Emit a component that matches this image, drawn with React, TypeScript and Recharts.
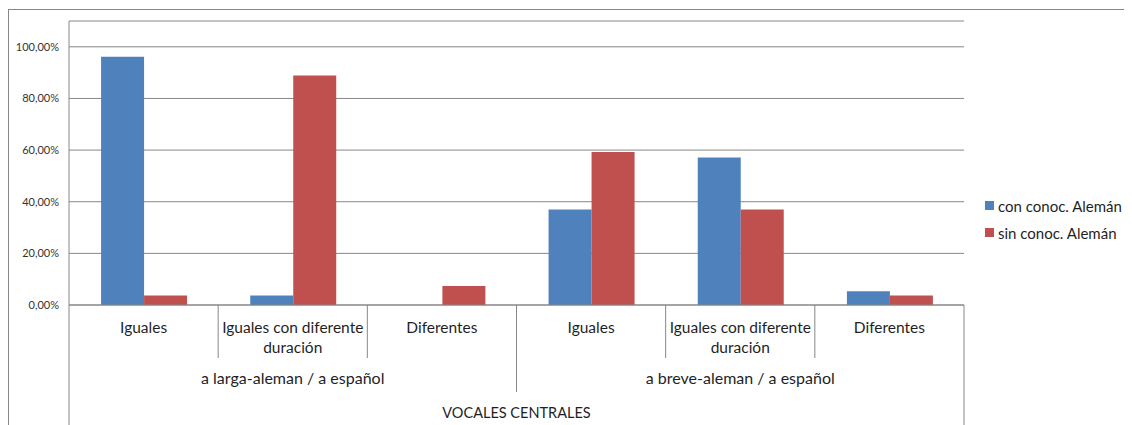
import React from "react";
import { BarChart, Bar, XAxis, YAxis, CartesianGrid, Legend } from "recharts";

const subCategories = [
  "Iguales",
  "Iguales con diferente duración",
  "Diferentes",
  "Iguales",
  "Iguales con diferente duración",
  "Diferentes",
];
const groups = [
  "a larga-aleman / a español",
  "a larga-aleman / a español",
  "a larga-aleman / a español",
  "a breve-aleman / a español",
  "a breve-aleman / a español",
  "a breve-aleman / a español",
];
const topLabel = "VOCALES CENTRALES";
const conConoc = [0.962, 0.037, 0, 0.37, 0.571, 0.053];
const sinConoc = [0.037, 0.889, 0.074, 0.593, 0.37, 0.037];
const yTicks = [0, 0.2, 0.4, 0.6, 0.8, 1];
const seriesNames = ["con conoc. Alemán", "sin conoc. Alemán"];

const data = subCategories.map((sub, i) => ({
  sub,
  group: groups[i],
  top: topLabel,
  con: conConoc[i],
  sin: sinConoc[i],
}));

const FONT = "Lato, 'Open Sans', sans-serif";
const GRID = "#878787";
const TEXT = "#1f1f1f";
const BLUE = "#4F81BD";
const RED = "#C0504D";
const SUB_SIZE = 15.5;

const pct = (v: number) => (v * 100).toFixed(2).replace(".", ",") + "%";

const bandOf = (p: any, fallback: number) =>
  p.width && p.visibleTicksCount ? p.width / p.visibleTicksCount : fallback;

// greedy word wrap, measured with a canvas so it follows the real font
let ctx: CanvasRenderingContext2D | null = null;
const measure = (s: string, size: number) => {
  if (!ctx) ctx = document.createElement("canvas").getContext("2d");
  if (!ctx) return s.length * size * 0.5;
  ctx.font = `${size}px Lato`;
  return ctx.measureText(s).width;
};
const wrap = (label: string, maxW: number, size: number) => {
  const lines: string[] = [];
  let cur = "";
  label.split(" ").forEach((w) => {
    const next = cur ? cur + " " + w : w;
    if (cur && measure(next, size) > maxW) {
      lines.push(cur);
      cur = w;
    } else cur = next;
  });
  if (cur) lines.push(cur);
  return lines;
};

const SubTick = (p: any) => {
  const { x, y, payload, index } = p;
  const bw = bandOf(p, 149);
  const left = x - bw / 2;
  const lines = wrap(String(payload.value), bw - 2, SUB_SIZE);
  return (
    <g>
      {index > 0 && <line x1={left} x2={left} y1={y} y2={y + 53} stroke={GRID} />}
      <text x={x} y={y + 28} textAnchor="middle" fill={TEXT} fontSize={SUB_SIZE} fontFamily={FONT}>
        {lines.map((l, i) => (
          <tspan key={i} x={x} dy={i === 0 ? 0 : 20}>
            {l}
          </tspan>
        ))}
      </text>
    </g>
  );
};

const GroupTick = (p: any) => {
  const { x, y, payload, index } = p;
  const bw = bandOf(p, 447);
  const left = x - bw / 2;
  return (
    <g>
      {index > 0 && <line x1={left} x2={left} y1={y - 53} y2={y + 34} stroke={GRID} />}
      <text x={x} y={y + 26} textAnchor="middle" fill={TEXT} fontSize={16} fontFamily={FONT}>
        {payload.value}
      </text>
    </g>
  );
};

const TopTick = (p: any) => {
  const { x, y, payload } = p;
  const bw = bandOf(p, 895);
  return (
    <g>
      <line x1={x - bw / 2} x2={x - bw / 2} y1={y - 87} y2={y + 40} stroke={GRID} />
      <line x1={x + bw / 2} x2={x + bw / 2} y1={y - 87} y2={y + 40} stroke={GRID} />
      <text x={x} y={y + 26} textAnchor="middle" fill={TEXT} fontSize={14.5} fontFamily={FONT}>
        {payload.value}
      </text>
    </g>
  );
};

const LegendBox = (props: any) => (
  <div style={{ fontFamily: FONT, fontSize: 15, color: TEXT }}>
    {(props.payload || []).map((e: any) => (
      <div key={e.value} style={{ height: 27, display: "flex", alignItems: "center", whiteSpace: "nowrap" }}>
        <span style={{ width: 9, height: 9, background: e.color, marginRight: 4, display: "inline-block", flex: "none" }} />
        <span>{e.value}</span>
      </div>
    ))}
  </div>
);

export default function App() {
  return (
    <div style={{ position: "relative", width: 1124, height: 417, fontFamily: FONT }}>
      <div
        style={{
          position: "absolute",
          left: 0,
          top: 1,
          right: 0,
          bottom: -20,
          borderTop: `1px solid ${GRID}`,
          borderLeft: `1px solid ${GRID}`,
        }}
      />
      <BarChart
        width={1124}
        height={417}
        data={data}
        margin={{ top: 13, right: 168, bottom: 0, left: 0 }}
        barCategoryGap="21.5%"
        barGap={0}
      >
        <CartesianGrid vertical={false} stroke={GRID} />
        <XAxis
          dataKey="sub"
          interval={0}
          height={53}
          tickSize={0}
          tickMargin={0}
          tickLine={false}
          axisLine={{ stroke: GRID }}
          tick={<SubTick />}
        />
        <XAxis
          xAxisId="group"
          dataKey="group"
          allowDuplicatedCategory={false}
          interval={0}
          height={34}
          tickSize={0}
          tickMargin={0}
          tickLine={false}
          axisLine={false}
          tick={<GroupTick />}
        />
        <XAxis
          xAxisId="top"
          dataKey="top"
          allowDuplicatedCategory={false}
          interval={0}
          height={33}
          tickSize={0}
          tickMargin={0}
          tickLine={false}
          axisLine={false}
          tick={<TopTick />}
        />
        <YAxis
          width={61}
          domain={[0, 1.1]}
          ticks={yTicks}
          tickFormatter={pct}
          tickSize={0}
          tickMargin={10}
          tickLine={false}
          axisLine={{ stroke: GRID }}
          tick={{ fill: "#333", fontSize: 11, fontFamily: FONT }}
        />
        <Legend
          layout="vertical"
          align="center"
          verticalAlign="middle"
          content={<LegendBox />}
          wrapperStyle={{ left: 977, top: 184, width: 145, height: 54 }}
        />
        <Bar dataKey="con" name={seriesNames[0]} fill={BLUE} isAnimationActive={false} />
        <Bar dataKey="sin" name={seriesNames[1]} fill={RED} isAnimationActive={false} />
      </BarChart>
    </div>
  );
}
